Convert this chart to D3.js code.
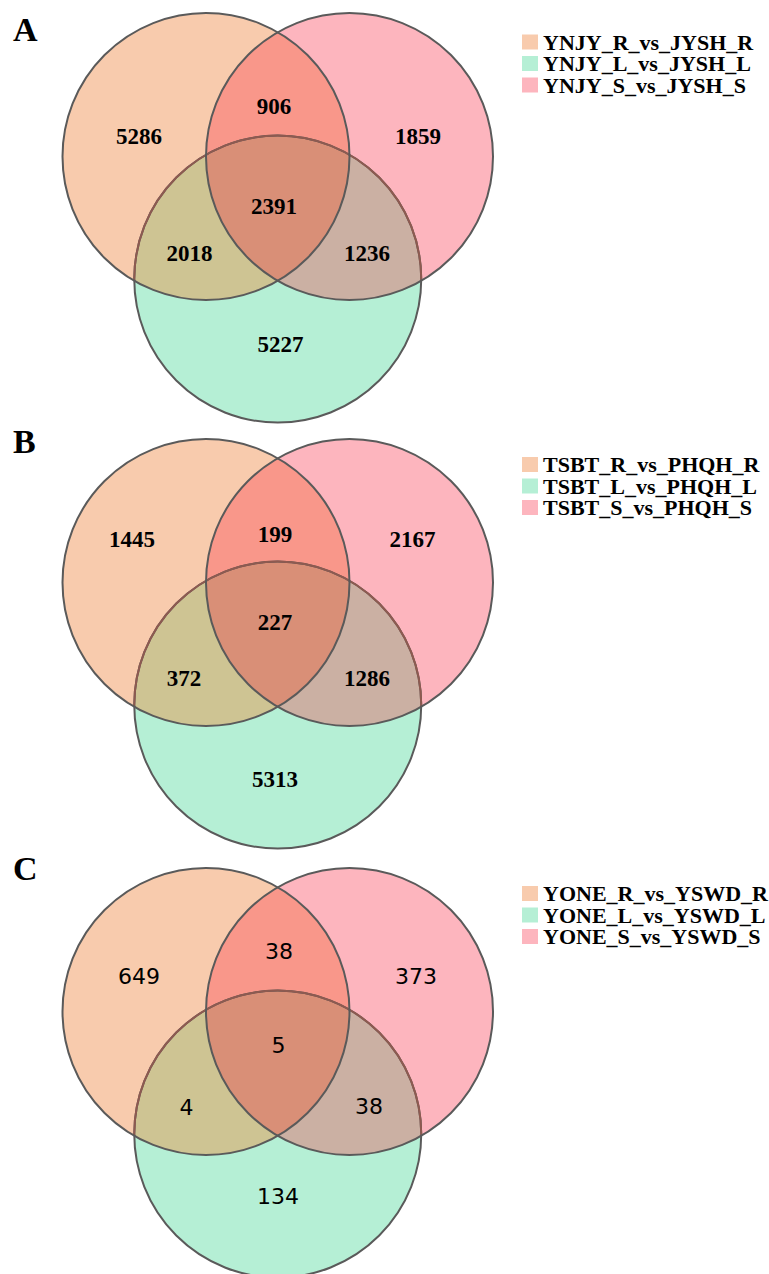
<!DOCTYPE html>
<html><head><meta charset="utf-8">
<script src="https://cdn.jsdelivr.net/npm/d3@7"></script>
<style>html,body{margin:0;padding:0;background:#fff;}svg{display:block;}</style>
</head><body>
<script>
// ---------- data ----------
const panelLetters = ["A", "B", "C"];
const setsA = ["YNJY_R_vs_JYSH_R", "YNJY_L_vs_JYSH_L", "YNJY_S_vs_JYSH_S"];
const setsB = ["TSBT_R_vs_PHQH_R", "TSBT_L_vs_PHQH_L", "TSBT_S_vs_PHQH_S"];
const setsC = ["YONE_R_vs_YSWD_R", "YONE_L_vs_YSWD_L", "YONE_S_vs_YSWD_S"];
// region order: R only, S only, L only, R∩S, R∩L, S∩L, R∩S∩L
const regionKeys = ["R", "S", "L", "RS", "RL", "SL", "RSL"];
const countsA = [5286, 1859, 5227, 906, 2018, 1236, 2391];
const countsB = [1445, 2167, 5313, 199, 372, 1286, 227];
const countsC = [649, 373, 134, 38, 4, 38, 5];

// ---------- layout & style ----------
const W = 769, H = 1274;
const R = 143.5;
const panelCY = [156.5, 582.5, 1011.5];
const letterBaseline = [41, 453, 880];
const legendTop = [42, 464.5, 893.5];
// label offsets (px) relative to left circle centre, per panel
const labelOffsets = [
  [[-67,-20.5],[212,-20.5],[74.5,187.5],[68,-50.5],[-16.5,96.5],[161,96.5],[68,49.5]],
  [[-74,-44],[206.5,-43.5],[69,196.5],[69,-49],[-22,95.5],[161,95.5],[69,39]],
  [[-67,-35],[210,-35],[72,185],[73,-60],[-19.5,96],[163,95],[72.5,34]]
];
const colors = {
  R: "#F8CBAD", S: "#FDB5BE", L: "#B5EFD5",
  RS: "#F9978A", RL: "#CEC493", SL: "#CBB0A3", RSL: "#D98F77"
};
const strokeCol = "#5a5a5a";
const panelFonts = [
  {family: "'Liberation Serif','Times New Roman',serif", weight: "bold", size: 23},
  {family: "'Liberation Serif','Times New Roman',serif", weight: "bold", size: 23},
  {family: "'DejaVu Sans',Verdana,sans-serif", weight: "normal", size: 22}
];

const panels = [
  {sets: setsA, counts: countsA},
  {sets: setsB, counts: countsB},
  {sets: setsC, counts: countsC}
];

const svg = d3.select("body").append("svg")
  .attr("width", W).attr("height", H)
  .attr("viewBox", `0 0 ${W} ${H}`);
svg.append("rect").attr("width", W).attr("height", H).attr("fill", "#fff");
const defs = svg.append("defs");

// unit geometry: circle centres in units of R
const unitCentres = { R: [0, 0], S: [1, 0], L: [0.5, 0.854] };
const x = d3.scaleLinear().domain([0, 1]).range([206, 206 + R]);

panels.forEach((p, i) => {
  const cy = panelCY[i];
  const y = d3.scaleLinear().domain([0, 1]).range([cy, cy + R]);
  const cx = k => x(unitCentres[k][0]);
  const cyy = k => y(unitCentres[k][1]);
  const g = svg.append("g");

  // clip paths
  ["R", "S"].forEach(k => {
    defs.append("clipPath").attr("id", `clip${k}${i}`)
      .append("circle").attr("cx", cx(k)).attr("cy", cyy(k)).attr("r", R);
  });
  const u = defs.append("clipPath").attr("id", `clipU${i}`);
  ["R", "S"].forEach(k => u.append("circle").attr("cx", cx(k)).attr("cy", cyy(k)).attr("r", R));

  const circ = (sel, k) => sel.append("circle").attr("cx", cx(k)).attr("cy", cyy(k)).attr("r", R);

  // single-set fills
  ["L", "R", "S"].forEach(k => circ(g, k).attr("fill", colors[k]));
  // pairwise
  const gR = g.append("g").attr("clip-path", `url(#clipR${i})`);
  circ(gR, "S").attr("fill", colors.RS);
  circ(gR, "L").attr("fill", colors.RL);
  const gS = g.append("g").attr("clip-path", `url(#clipS${i})`);
  circ(gS, "L").attr("fill", colors.SL);
  // triple
  const gRS = g.append("g").attr("clip-path", `url(#clipR${i})`)
    .append("g").attr("clip-path", `url(#clipS${i})`);
  circ(gRS, "L").attr("fill", colors.RSL);

  // outlines
  circ(g, "L").attr("fill", "none").attr("stroke", strokeCol).attr("stroke-width", 2);
  circ(g.append("g").attr("clip-path", `url(#clipU${i})`), "L")
    .attr("fill", "none").attr("stroke", "#8e5a50").attr("stroke-width", 2);
  ["R", "S"].forEach(k => circ(g, k).attr("fill", "none").attr("stroke", strokeCol).attr("stroke-width", 2));

  // counts
  const f = panelFonts[i];
  g.selectAll("text.count").data(p.counts).join("text")
    .attr("class", "count")
    .attr("x", (d, j) => x(0) + labelOffsets[i][j][0])
    .attr("y", (d, j) => y(0) + labelOffsets[i][j][1])
    .attr("dy", "0.35em")
    .attr("text-anchor", "middle")
    .attr("font-family", f.family)
    .attr("font-weight", f.weight)
    .attr("font-size", f.size)
    .attr("fill", "#000")
    .text(d => d);

  // panel letter
  svg.append("text").attr("x", 13).attr("y", letterBaseline[i])
    .attr("font-family", "'Liberation Serif','Times New Roman',serif")
    .attr("font-weight", "bold").attr("font-size", 34).attr("fill", "#000")
    .text(panelLetters[i]);

  // legend
  const legendCols = [colors.R, colors.L, colors.S];
  const lg = svg.append("g");
  const rows = lg.selectAll("g").data(p.sets).join("g")
    .attr("transform", (d, j) => `translate(522,${legendTop[i] + j * 21.5})`);
  rows.append("rect").attr("x", 0).attr("y", -7.5).attr("width", 16).attr("height", 15)
    .attr("fill", (d, j) => legendCols[j]);
  rows.append("text").attr("x", 21).attr("dy", "0.35em")
    .attr("font-family", "'Liberation Serif','Times New Roman',serif")
    .attr("font-weight", "bold").attr("font-size", 22).attr("fill", "#000")
    .text(d => d);
});
</script>
</body></html>
